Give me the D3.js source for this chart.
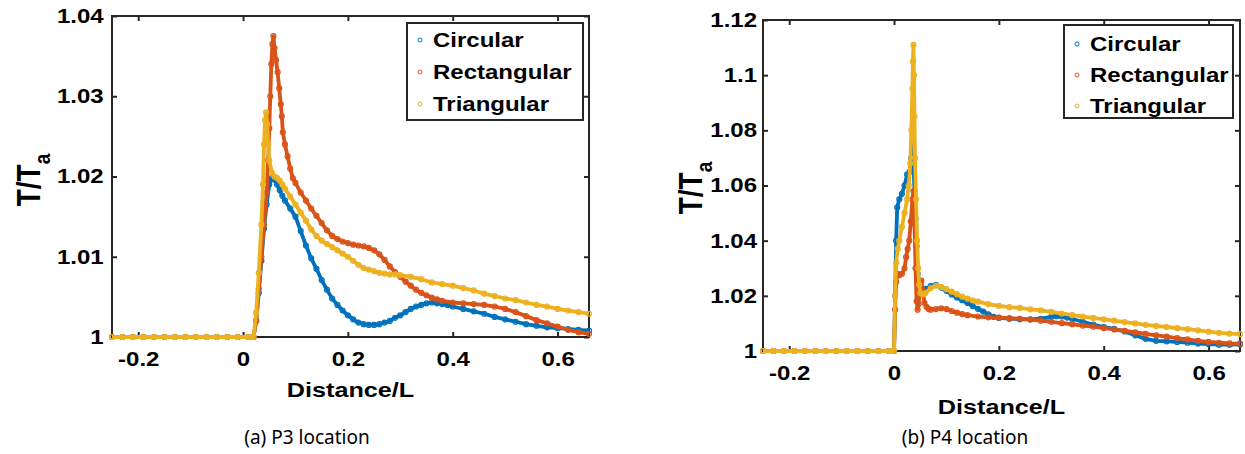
<!DOCTYPE html>
<meta charset="utf-8">
<style>
body { margin: 0; background: #fff; }
svg { display: block; }
.frame { fill: none; stroke: #262626; stroke-width: 2px; }
.axis path { display: none; }
.axis line { stroke: #262626; stroke-width: 2px; }
.axis text, .bold { font-family: "Liberation Sans", Arial, sans-serif; font-weight: bold; fill: #000; }
.caption { font-family: "Noto Sans", sans-serif; font-size: 19px; fill: #000; }
</style>
<svg width="1245" height="454"></svg>
<script src="https://d3js.org/d3.v7.min.js"></script>
<script>
// tick values and legend
var xTicks = [-0.2, 0, 0.2, 0.4, 0.6];
var yTicksP3 = [1, 1.01, 1.02, 1.03, 1.04];
var yTicksP4 = [1, 1.02, 1.04, 1.06, 1.08, 1.1, 1.12];
var seriesNames = ["Circular", "Rectangular", "Triangular"];
var seriesColors = ["#0072BD", "#D95319", "#EDB120"];

// (a) P3 location, [Distance/L, T/Ta]
var p3Circular = [[-0.25,1],[-0.23,1],[-0.21,1],[-0.19,1],[-0.17,1],[-0.15,1],[-0.13,1],[-0.11,1],[-0.09,1],[-0.07,1],[-0.05,1],[-0.03,1],[-0.01,1],[0.01,1],
  [0.02,1.0],[0.025,1.002],[0.03,1.0055],[0.035,1.0095],[0.04,1.0135],[0.045,1.0165],[0.05,1.019],[0.055,1.0198],[0.06,1.0196],[0.065,1.019],[0.07,1.0183],
  [0.075,1.0176],[0.08,1.017],[0.09,1.016],[0.1,1.015],[0.11,1.0132],[0.12,1.0114],[0.13,1.0098],[0.14,1.0085],[0.15,1.0071],[0.16,1.0059],[0.17,1.0048],
  [0.18,1.004],[0.19,1.0033],[0.2,1.0027],[0.21,1.0022],[0.22,1.0018],[0.23,1.0016],[0.24,1.0015],[0.25,1.0015],[0.26,1.0016],[0.27,1.0018],[0.28,1.002],
  [0.29,1.0024],[0.3,1.0027],[0.31,1.0031],[0.32,1.0035],[0.33,1.0038],[0.34,1.004],[0.35,1.0042],[0.36,1.0043],[0.37,1.0042],[0.38,1.0041],[0.39,1.004],
  [0.4,1.0038],[0.42,1.0035],[0.44,1.0032],[0.46,1.0029],[0.48,1.0025],[0.5,1.0022],[0.52,1.0019],[0.54,1.0016],[0.56,1.0014],[0.58,1.0012],[0.6,1.0011],
  [0.62,1.001],[0.64,1.0009],[0.66,1.0008]];
var p3Rectangular = [[-0.25,1],[-0.23,1],[-0.21,1],[-0.19,1],[-0.17,1],[-0.15,1],[-0.13,1],[-0.11,1],[-0.09,1],[-0.07,1],[-0.05,1],[-0.03,1],[-0.01,1],[0.01,1],
  [0.02,1.0],[0.025,1.002],[0.03,1.006],[0.035,1.01],[0.04,1.014],[0.045,1.018],[0.048,1.022],[0.05,1.026],[0.052,1.03],[0.054,1.034],[0.056,1.0365],
  [0.058,1.0375],[0.06,1.036],[0.063,1.0345],[0.066,1.033],[0.069,1.031],[0.072,1.029],[0.074,1.0275],[0.076,1.0255],[0.08,1.024],[0.085,1.0225],
  [0.09,1.021],[0.095,1.0198],[0.1,1.0192],[0.11,1.018],[0.12,1.017],[0.13,1.016],[0.14,1.0151],[0.15,1.0142],[0.16,1.0133],[0.17,1.0126],[0.18,1.0122],
  [0.19,1.0119],[0.2,1.0117],[0.21,1.0115],[0.22,1.0114],[0.23,1.0113],[0.24,1.0111],[0.25,1.0108],[0.26,1.0103],[0.27,1.0096],[0.28,1.0088],[0.29,1.0081],
  [0.3,1.0075],[0.31,1.0069],[0.32,1.0064],[0.33,1.0059],[0.34,1.0055],[0.35,1.0052],[0.36,1.0049],[0.37,1.0047],[0.38,1.0045],[0.4,1.0043],[0.42,1.0042],
  [0.44,1.0041],[0.46,1.004],[0.48,1.0038],[0.5,1.0035],[0.52,1.0031],[0.54,1.0026],[0.56,1.0021],[0.58,1.0017],[0.6,1.0013],[0.62,1.0009],[0.64,1.0006],
  [0.66,1.0004]];
var p3Triangular = [[-0.25,1],[-0.23,1],[-0.21,1],[-0.19,1],[-0.17,1],[-0.15,1],[-0.13,1],[-0.11,1],[-0.09,1],[-0.07,1],[-0.05,1],[-0.03,1],[-0.01,1],[0.01,1],
  [0.02,1.0],[0.025,1.003],[0.03,1.008],[0.035,1.014],[0.038,1.019],[0.04,1.024],[0.042,1.027],[0.044,1.028],[0.046,1.0265],[0.048,1.024],[0.05,1.022],
  [0.055,1.0205],[0.06,1.02],[0.065,1.0198],[0.07,1.0195],[0.075,1.019],[0.08,1.0185],[0.09,1.0175],[0.1,1.0165],[0.11,1.0155],[0.12,1.0145],[0.13,1.0134],
  [0.14,1.0126],[0.15,1.012],[0.16,1.0116],[0.17,1.0112],[0.18,1.0108],[0.19,1.0104],[0.2,1.01],[0.21,1.0095],[0.22,1.009],[0.23,1.0086],[0.24,1.0084],
  [0.25,1.0082],[0.26,1.008],[0.27,1.0079],[0.28,1.0078],[0.29,1.0078],[0.3,1.0077],[0.32,1.0075],[0.34,1.0072],[0.36,1.0068],[0.38,1.0066],[0.4,1.0064],
  [0.42,1.0061],[0.44,1.0058],[0.46,1.0054],[0.48,1.0051],[0.5,1.0048],[0.52,1.0046],[0.54,1.0043],[0.56,1.004],[0.58,1.0038],[0.6,1.0035],[0.62,1.0033],
  [0.64,1.0031],[0.66,1.0029]];

// (b) P4 location
var p4Circular = [[-0.25,1],[-0.23,1],[-0.21,1],[-0.19,1],[-0.17,1],[-0.15,1],[-0.13,1],[-0.11,1],[-0.09,1],[-0.07,1],[-0.05,1],[-0.03,1],[-0.01,1],
  [0,1.0],[0.002,1.02],[0.004,1.04],[0.006,1.052],[0.01,1.055],[0.015,1.057],[0.02,1.06],[0.025,1.064],[0.03,1.065],[0.033,1.07],[0.035,1.075],[0.037,1.068],
  [0.039,1.058],[0.041,1.048],[0.043,1.038],[0.045,1.028],[0.05,1.023],[0.055,1.022],[0.06,1.0225],[0.07,1.0235],[0.08,1.024],[0.09,1.023],[0.1,1.0218],
  [0.11,1.0205],[0.12,1.0194],[0.13,1.0184],[0.14,1.0174],[0.15,1.0163],[0.16,1.0153],[0.17,1.0143],[0.18,1.0133],[0.19,1.0124],[0.2,1.012],[0.22,1.0117],
  [0.24,1.0115],[0.26,1.0115],[0.28,1.0117],[0.3,1.0124],[0.31,1.0126],[0.32,1.0125],[0.33,1.0121],[0.34,1.0116],[0.36,1.0106],[0.38,1.0096],[0.4,1.0087],
  [0.42,1.008],[0.44,1.0071],[0.46,1.0057],[0.48,1.0044],[0.5,1.0037],[0.52,1.0035],[0.54,1.0033],[0.56,1.003],[0.58,1.0027],[0.6,1.0025],[0.62,1.0023],
  [0.64,1.0023],[0.66,1.0024]];
var p4Rectangular = [[-0.25,1],[-0.23,1],[-0.21,1],[-0.19,1],[-0.17,1],[-0.15,1],[-0.13,1],[-0.11,1],[-0.09,1],[-0.07,1],[-0.05,1],[-0.03,1],[-0.01,1],
  [0,1.0],[0.002,1.015],[0.004,1.025],[0.007,1.028],[0.01,1.0275],[0.015,1.028],[0.02,1.03],[0.023,1.034],[0.026,1.037],[0.029,1.04],[0.032,1.047],
  [0.035,1.055],[0.037,1.058],[0.039,1.046],[0.041,1.03],[0.043,1.018],[0.045,1.015],[0.047,1.017],[0.05,1.025],[0.052,1.0255],[0.055,1.022],[0.058,1.0175],
  [0.062,1.016],[0.066,1.0152],[0.07,1.015],[0.08,1.0152],[0.09,1.0155],[0.1,1.0152],[0.11,1.0145],[0.12,1.0139],[0.13,1.0134],[0.14,1.013],[0.16,1.0125],
  [0.18,1.0122],[0.2,1.0121],[0.22,1.0119],[0.24,1.0117],[0.26,1.0114],[0.28,1.011],[0.3,1.0106],[0.32,1.0101],[0.34,1.0097],[0.36,1.0092],[0.38,1.0088],
  [0.4,1.0083],[0.42,1.0078],[0.44,1.0073],[0.46,1.0068],[0.48,1.0062],[0.5,1.0057],[0.52,1.0052],[0.54,1.0047],[0.56,1.0042],[0.58,1.0037],[0.6,1.0033],
  [0.62,1.003],[0.64,1.0028],[0.66,1.0027]];
var p4Triangular = [[-0.25,1],[-0.23,1],[-0.21,1],[-0.19,1],[-0.17,1],[-0.15,1],[-0.13,1],[-0.11,1],[-0.09,1],[-0.07,1],[-0.05,1],[-0.03,1],[-0.01,1],
  [0,1.0],[0.002,1.02],[0.004,1.032],[0.007,1.037],[0.01,1.04],[0.015,1.045],[0.02,1.05],[0.025,1.055],[0.028,1.06],[0.031,1.068],[0.033,1.08],[0.035,1.095],
  [0.036,1.105],[0.037,1.111],[0.038,1.1],[0.039,1.085],[0.04,1.07],[0.042,1.055],[0.044,1.04],[0.046,1.03],[0.048,1.024],[0.05,1.021],[0.055,1.0205],
  [0.06,1.021],[0.07,1.0228],[0.08,1.0237],[0.09,1.0232],[0.1,1.0224],[0.11,1.0215],[0.12,1.0206],[0.13,1.0197],[0.14,1.019],[0.15,1.0184],[0.16,1.0179],
  [0.18,1.017],[0.2,1.0164],[0.22,1.0159],[0.24,1.0156],[0.26,1.0151],[0.28,1.0147],[0.3,1.0142],[0.32,1.0136],[0.34,1.013],[0.36,1.0125],[0.38,1.012],
  [0.4,1.0115],[0.42,1.011],[0.44,1.0105],[0.46,1.01],[0.48,1.0095],[0.5,1.0091],[0.52,1.0087],[0.54,1.0083],[0.56,1.0079],[0.58,1.0075],[0.6,1.007],
  [0.62,1.0066],[0.64,1.0063],[0.66,1.0061]];

var svg = d3.select("svg");
var xDomain = [-0.25, 0.66];
var sx = 1.2; // the source figure is stretched sideways

function boldText(g, x, y, str, size, anchor) {
  return g.append("text").attr("class", "bold")
      .attr("transform", "translate(" + x + "," + y + ") scale(" + sx + ",1)")
      .attr("text-anchor", anchor || "start")
      .style("font-size", size + "px")
      .text(str);
}

function drawPanel(p) {
  var g = svg.append("g");
  var x = d3.scaleLinear().domain(xDomain).range([p.left, p.left + p.width]);
  var y = d3.scaleLinear().domain(p.yDomain).range([p.top + p.height, p.top]);
  var fmtX = function(d) { return String(+d.toFixed(1)); };
  var fmtY = function(d) { return String(+d.toFixed(2)); };

  // axes with inward ticks on all four sides
  var bottom = g.append("g").attr("class", "axis")
      .attr("transform", "translate(0," + (p.top + p.height) + ")")
      .call(d3.axisBottom(x).tickValues(xTicks).tickFormat(fmtX).tickSizeInner(-5).tickSizeOuter(0).tickPadding(15));
  g.append("g").attr("class", "axis")
      .attr("transform", "translate(0," + p.top + ")")
      .call(d3.axisTop(x).tickValues(xTicks).tickFormat("").tickSizeInner(-5).tickSizeOuter(0));
  var left = g.append("g").attr("class", "axis")
      .attr("transform", "translate(" + p.left + ",0)")
      .call(d3.axisLeft(y).tickValues(p.yTicks).tickFormat(fmtY).tickSizeInner(-5).tickSizeOuter(0).tickPadding(p.yPad));
  g.append("g").attr("class", "axis")
      .attr("transform", "translate(" + (p.left + p.width) + ",0)")
      .call(d3.axisRight(y).tickValues(p.yTicks).tickFormat("").tickSizeInner(-5).tickSizeOuter(0));
  bottom.selectAll("text").style("font-size", "20px").attr("transform", "scale(" + sx + ",1)");
  left.selectAll("text").style("font-size", "20px").attr("transform", "scale(" + sx + ",1)");

  g.append("rect").attr("class", "frame")
      .attr("x", p.left).attr("y", p.top).attr("width", p.width).attr("height", p.height);

  var line = d3.line().x(function(d) { return x(d[0]); }).y(function(d) { return y(d[1]); });
  p.series.forEach(function(s, i) {
    var sg = g.append("g");
    sg.append("path").datum(s).attr("d", line)
        .attr("fill", "none").attr("stroke", seriesColors[i]).attr("stroke-width", 3.8)
        .attr("stroke-linejoin", "round");
    sg.selectAll("circle").data(s).enter().append("circle")
        .attr("cx", function(d) { return x(d[0]); })
        .attr("cy", function(d) { return y(d[1]); })
        .attr("r", 2.5)
        .attr("fill", "none").attr("stroke", seriesColors[i]).attr("stroke-width", 1.2);
  });

  // legend
  var L = p.legend;
  g.append("rect").attr("x", L.x).attr("y", L.y).attr("width", L.w).attr("height", L.h)
      .attr("fill", "#fff").attr("stroke", "#262626").attr("stroke-width", 2);
  seriesNames.forEach(function(name, i) {
    var ry = L.y + L.first + i * L.step;
    g.append("circle").attr("cx", L.x + 13).attr("cy", ry).attr("r", 2)
        .attr("fill", "none").attr("stroke", seriesColors[i]).attr("stroke-width", 1);
    boldText(g, L.x + 26, ry + 7, name, 20);
  });

  // axis titles
  boldText(g, p.left + p.width / 2, p.xLabelY, "Distance/L", 21, "middle");
  var yl = g.append("text").attr("class", "bold")
      .attr("transform", "translate(" + p.yLabelX + "," + p.yLabelY + ") rotate(-90) scale(1," + sx + ")")
      .attr("text-anchor", "middle")
      .style("font-size", "28px");
  yl.append("tspan").text("T/T");
  yl.append("tspan").attr("dy", 8).style("font-size", "19px").text("a");

  g.append("text").attr("class", "caption")
      .attr("x", p.captionX).attr("y", 444)
      .attr("text-anchor", "middle")
      .text(p.caption);
}

drawPanel({
  left: 112, top: 16, width: 477, height: 321,
  yDomain: [1, 1.04], yTicks: yTicksP3, yPad: 7,
  series: [p3Circular, p3Rectangular, p3Triangular],
  legend: { x: 407, y: 23, w: 176, h: 97, first: 17, step: 32 },
  xLabelY: 397, yLabelX: 40, yLabelY: 180,
  captionX: 307, caption: "(a) P3 location"
});
drawPanel({
  left: 763, top: 20, width: 477, height: 331,
  yDomain: [1, 1.12], yTicks: yTicksP4, yPad: 5,
  series: [p4Circular, p4Rectangular, p4Triangular],
  legend: { x: 1064, y: 25, w: 169, h: 93, first: 19, step: 31 },
  xLabelY: 414, yLabelX: 702, yLabelY: 188,
  captionX: 965, caption: "(b) P4 location"
});
</script>
